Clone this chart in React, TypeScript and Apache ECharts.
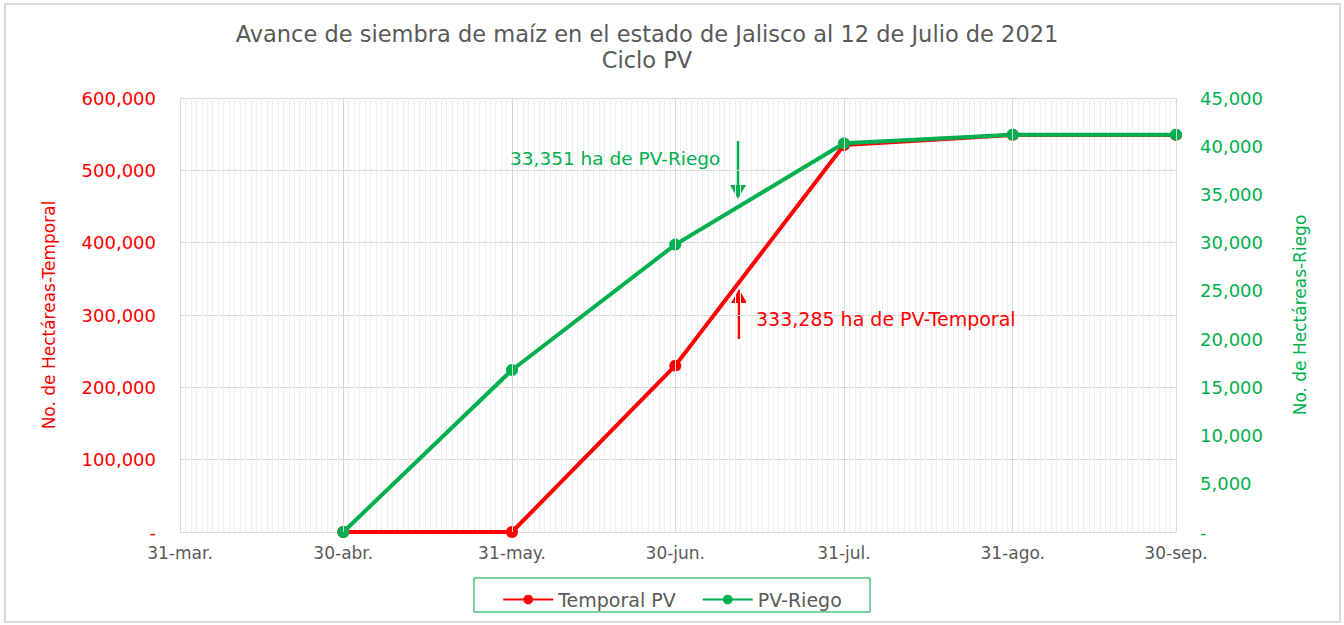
import React, { useEffect, useRef } from "react";
import * as echarts from "echarts";

const baseDate = "2021-03-31";
const xTickDates = ["2021-03-31", "2021-04-30", "2021-05-31", "2021-06-30", "2021-07-31", "2021-08-31", "2021-09-30"];
const xTickLabels = ["31-mar.", "30-abr.", "31-may.", "30-jun.", "31-jul.", "31-ago.", "30-sep."];
const pointDates = ["2021-04-30", "2021-05-31", "2021-06-30", "2021-07-31", "2021-08-31", "2021-09-30"];
const temporalValues = [0, 0, 230000, 535000, 549000, 549000];
const riegoValues = [0, 16800, 29800, 40300, 41200, 41200];
const seriesNames = ["Temporal PV", "PV-Riego"];

const FONT = "DejaVu Sans";
const RED = "#ff0000";
const GREEN = "#00b050";
const GRAY = "#595959";

const dayOf = (d: string) => Math.round((Date.parse(d) - Date.parse(baseDate)) / 86400000);
const xTickDays = xTickDates.map(dayOf);
const pointDays = pointDates.map(dayOf);

const fmt = (v: number) => (v === 0 ? "-" : v.toLocaleString("en-US"));

export default function App() {
  const ref = useRef<HTMLDivElement>(null);
  useEffect(() => {
    if (!ref.current) return;
    const chart = echarts.init(ref.current, null, { renderer: "svg" });
    const option: any = {
      animation: false,
      backgroundColor: "#ffffff",
      textStyle: { fontFamily: FONT },
      title: {
        text: "Avance de siembra de maíz en el estado de Jalisco al 12 de Julio de 2021\nCiclo PV",
        left: 642,
        top: 16,
        textAlign: "center",
        textStyle: { fontFamily: FONT, fontSize: 22.5, fontWeight: "normal", color: GRAY, lineHeight: 26 },
      },
      grid: { left: 180, right: 168, top: 98, bottom: 93, containLabel: false },
      xAxis: {
        type: "value",
        min: 0,
        max: xTickDays[xTickDays.length - 1],
        interval: 1,
        axisLine: { show: false },
        axisTick: { show: false },
        splitLine: { show: true, lineStyle: { color: "#efefef", width: 1 } },
        axisLabel: {
          interval: 0,
          color: GRAY,
          fontSize: 17,
          fontFamily: FONT,
          margin: 12,
          formatter: (v: number) => {
            const i = xTickDays.indexOf(v);
            return i >= 0 ? xTickLabels[i] : "";
          },
        },
      },
      yAxis: [
        {
          type: "value",
          min: 0,
          max: 600000,
          interval: 100000,
          name: "No. de Hectáreas-Temporal",
          nameLocation: "middle",
          nameGap: 123,
          nameTextStyle: { color: RED, fontSize: 17, fontFamily: FONT },
          axisLine: { show: false },
          axisTick: { show: false },
          splitLine: { show: true, lineStyle: { color: "#d9d9d9", width: 1 } },
          axisLabel: { color: RED, fontSize: 18, fontFamily: FONT, margin: 24, formatter: fmt },
        },
        {
          type: "value",
          min: 0,
          max: 45000,
          interval: 5000,
          position: "right",
          name: "No. de Hectáreas-Riego",
          nameLocation: "middle",
          nameGap: 115,
          nameRotate: 90,
          nameTextStyle: { color: GREEN, fontSize: 17, fontFamily: FONT },
          axisLine: { show: false },
          axisTick: { show: false },
          splitLine: { show: false },
          axisLabel: { color: GREEN, fontSize: 18, fontFamily: FONT, margin: 24, formatter: fmt },
        },
      ],
      legend: {
        data: seriesNames,
        left: "center",
        top: 585,
        itemWidth: 50,
        itemHeight: 12,
        itemGap: 26,
        textStyle: { color: GRAY, fontSize: 19, fontFamily: FONT },
      },
      series: [
        {
          name: "grid-major",
          type: "line",
          data: [],
          z: 1,
          silent: true,
          markLine: {
            silent: true,
            symbol: "none",
            label: { show: false },
            emphasis: { disabled: true },
            lineStyle: { color: "#d9d9d9", width: 1, type: "solid" },
            data: xTickDays.map((d) => ({ xAxis: d })),
          },
        },
        {
          name: seriesNames[0],
          type: "line",
          yAxisIndex: 0,
          data: pointDays.map((d, i) => [d, temporalValues[i]]),
          symbol: "circle",
          symbolSize: 12,
          lineStyle: { color: RED, width: 4 },
          itemStyle: { color: RED },
          z: 3,
        },
        {
          name: seriesNames[1],
          type: "line",
          yAxisIndex: 1,
          data: pointDays.map((d, i) => [d, riegoValues[i]]),
          symbol: "circle",
          symbolSize: 12,
          lineStyle: { color: GREEN, width: 4 },
          itemStyle: { color: GREEN },
          z: 4,
        },
      ],
      graphic: [
        { type: "rect", shape: { x: 5, y: 4, width: 1335, height: 618 }, style: { fill: "none", stroke: "#d9d9d9", lineWidth: 2 }, silent: true, z: -1 },
        { type: "rect", shape: { x: 474, y: 578, width: 396, height: 34 }, style: { fill: "none", stroke: "#52c47f", lineWidth: 1.5 }, silent: true },
        { type: "text", x: 510, y: 158, z: 100, style: { text: "33,351 ha de PV-Riego", fill: GREEN, font: `18.5px "${FONT}"`, textVerticalAlign: "middle" }, silent: true },
        { type: "line", shape: { x1: 738, y1: 141, x2: 738, y2: 188 }, style: { stroke: GREEN, lineWidth: 2.5 }, silent: true },
        { type: "polygon", shape: { points: [[730, 185], [746, 185], [738, 199]] }, style: { fill: GREEN }, silent: true },
        { type: "text", x: 756, y: 319, z: 100, style: { text: "333,285 ha de PV-Temporal", fill: RED, font: `19px "${FONT}"`, textVerticalAlign: "middle" }, silent: true },
        { type: "line", shape: { x1: 739, y1: 339, x2: 739, y2: 300 }, style: { stroke: RED, lineWidth: 2.5 }, silent: true },
        { type: "polygon", shape: { points: [[731, 303], [747, 303], [739, 289]] }, style: { fill: RED }, silent: true },
      ],
    };
    chart.setOption(option);
    return () => chart.dispose();
  }, []);
  return <div ref={ref} style={{ position: "absolute", left: 0, top: 0, width: 1344, height: 625 }} />;
}
